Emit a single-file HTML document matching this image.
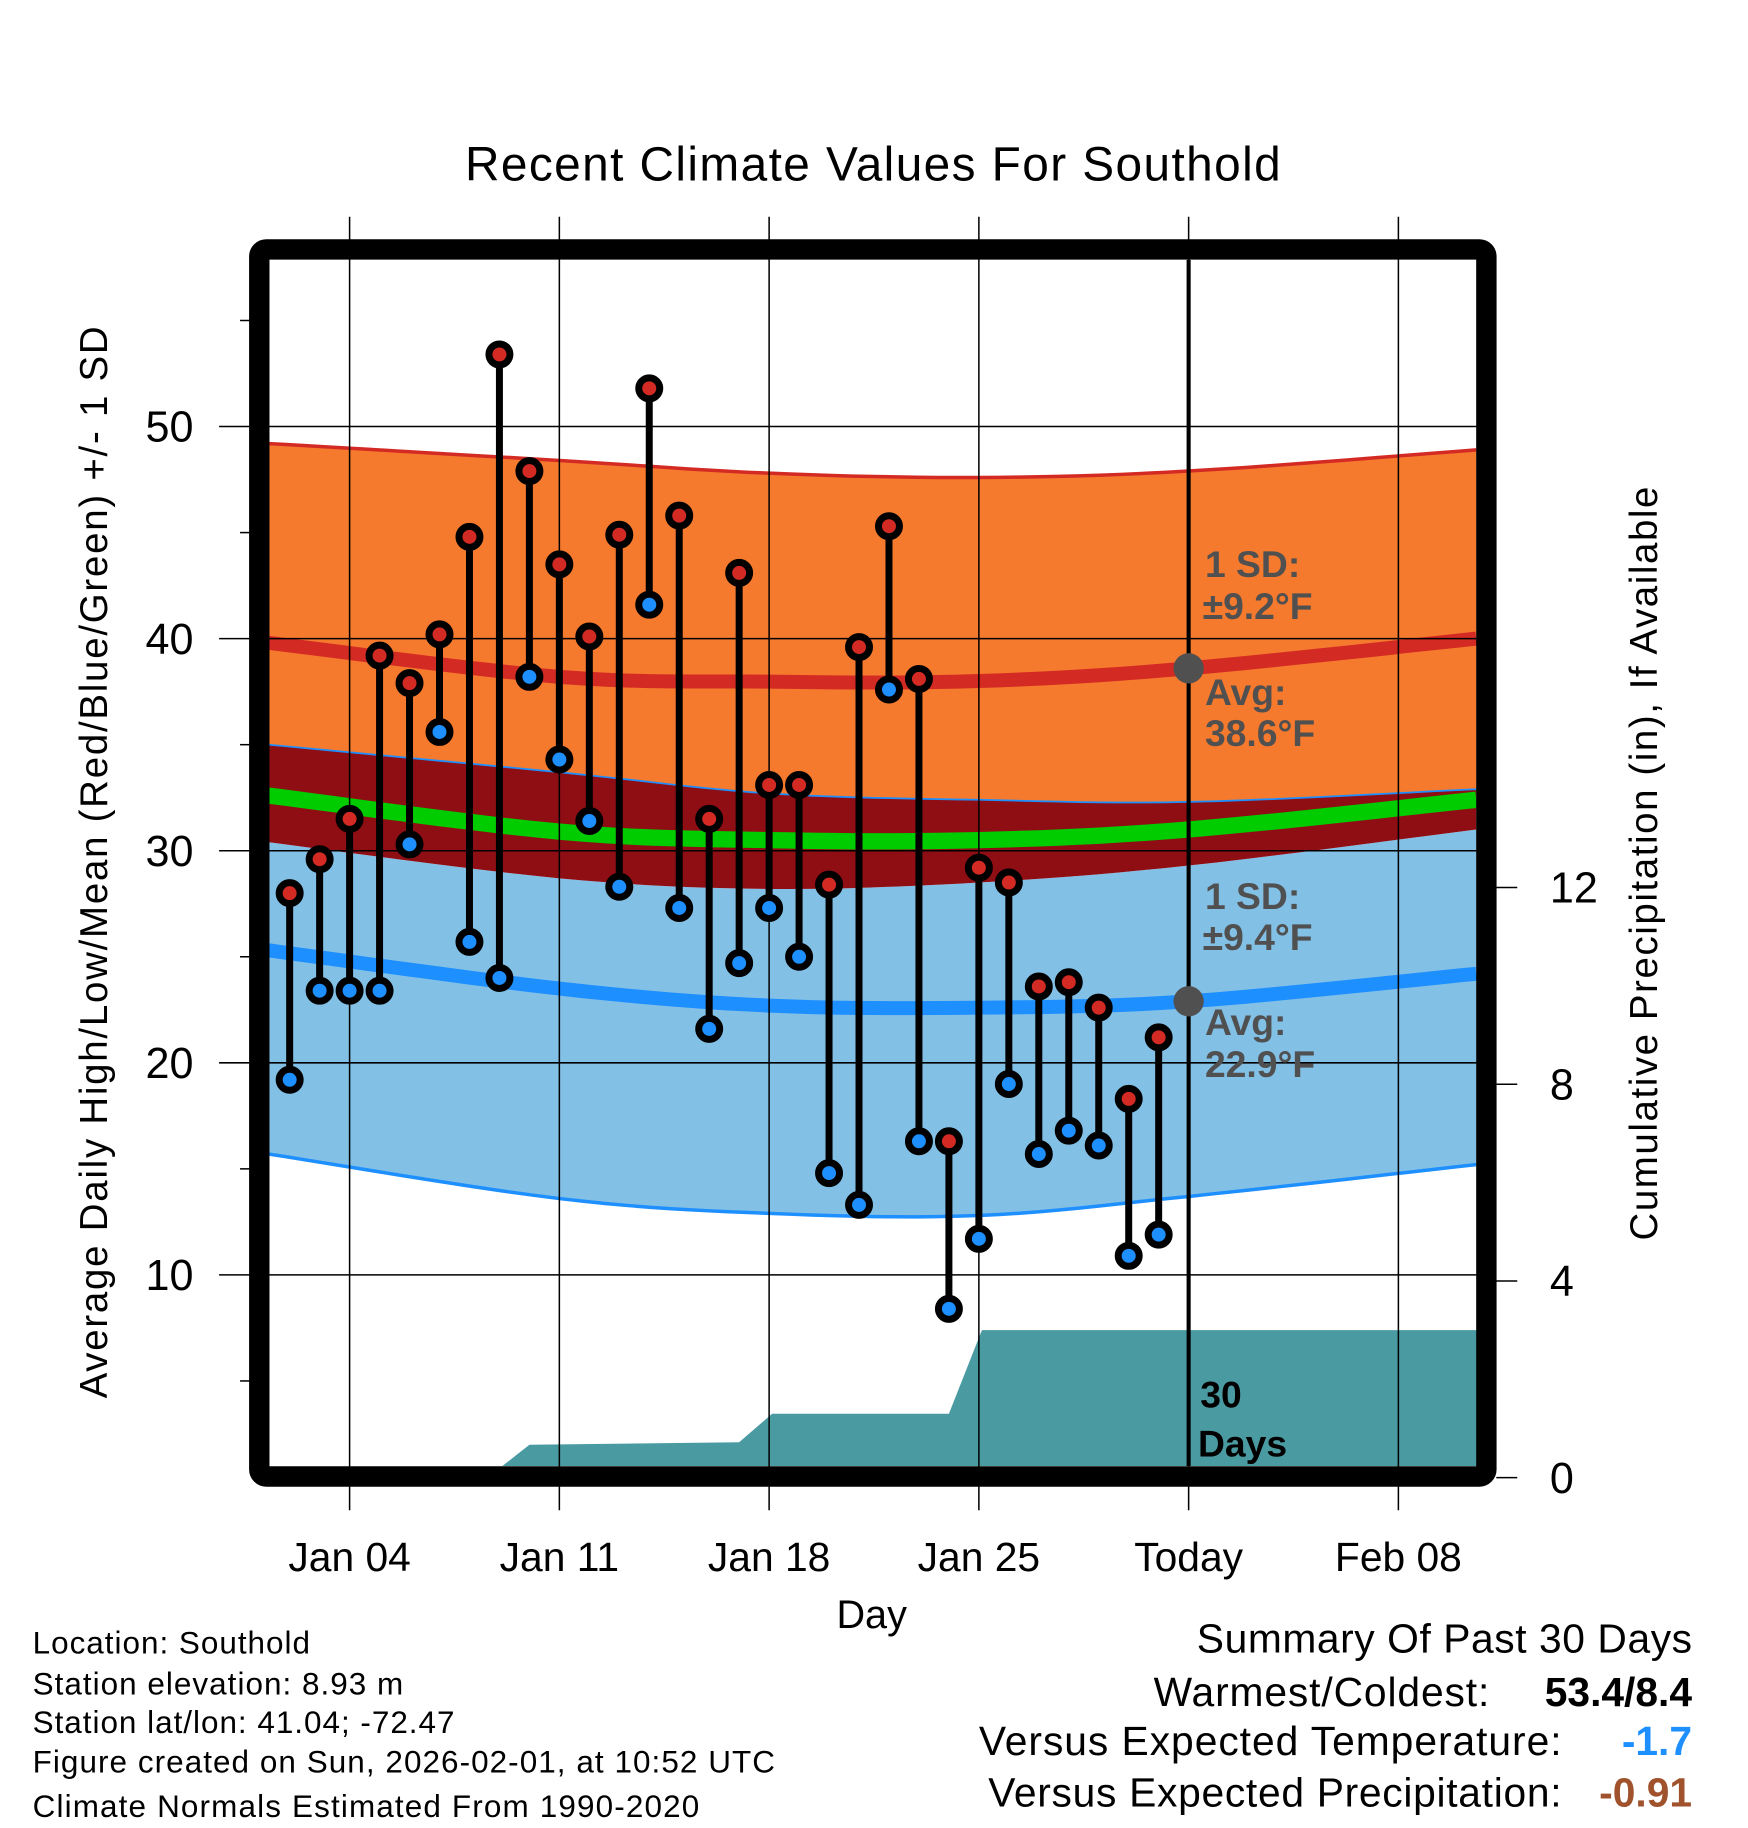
<!DOCTYPE html>
<html><head><meta charset="utf-8"><style>
html,body{margin:0;padding:0;background:#fff;}
svg{display:block;font-family:"Liberation Sans",Arial,sans-serif;}
</style></head><body>
<svg id="chart" width="1748" height="1828" viewBox="0 0 1500 1568.6" xmlns="http://www.w3.org/2000/svg">
<defs><clipPath id="plotclip"><rect x="231" y="223" width="1036" height="1035"/></clipPath></defs>
<g id="bands" clip-path="url(#plotclip)"></g>
<g id="precip" clip-path="url(#plotclip)"></g>
<g id="grid"></g>
<g id="series"></g>
<g id="annot"></g>
<rect x="222.5" y="214" width="1053" height="1053" rx="6" fill="none" stroke="#000" stroke-width="17.5"/>
<g id="axes"></g>
<text x="749" y="155" font-size="41" text-anchor="middle" textLength="700">Recent Climate Values For Southold</text>
<text transform="translate(92,740) rotate(-90)" font-size="33" text-anchor="middle" textLength="920">Average Daily High/Low/Mean (Red/Blue/Green) +/- 1 SD</text>
<text transform="translate(1422,741) rotate(-90)" font-size="33" text-anchor="middle" textLength="647">Cumulative Precipitation (in), If Available</text>
<text x="748" y="1397" font-size="34" text-anchor="middle">Day</text>
<g font-size="27">
<text x="28" y="1419" textLength="238">Location: Southold</text>
<text x="28" y="1454" textLength="318">Station elevation: 8.93 m</text>
<text x="28" y="1487" textLength="362">Station lat/lon: 41.04; -72.47</text>
<text x="28" y="1521" textLength="637">Figure created on Sun, 2026-02-01, at 10:52 UTC</text>
<text x="28" y="1559" textLength="572">Climate Normals Estimated From 1990-2020</text>
</g>
<g font-size="35" text-anchor="end">
<text x="1452" y="1418" textLength="425">Summary Of Past 30 Days</text>
<text x="1278" y="1464" textLength="288">Warmest/Coldest:</text>
<text x="1452" y="1464" font-weight="bold">53.4/8.4</text>
<text x="1340" y="1506" textLength="500">Versus Expected Temperature:</text>
<text x="1452" y="1506" font-weight="bold" fill="#1E8FFF">-1.7</text>
<text x="1340" y="1550" textLength="492">Versus Expected Precipitation:</text>
<text x="1452" y="1550" font-weight="bold" fill="#A0522D">-0.91</text>
</g>
</svg>
<script>
// ---- data ----
const obsDays = [2,3,4,5,6,7,8,9,10,11,12,13,14,15,16,17,18,19,20,21,22,23,24,25,26,27,28,29,30,31];
const highs = [28.0,29.6,31.5,39.2,37.9,40.2,44.8,53.4,47.9,43.5,40.1,44.9,51.8,45.8,31.5,43.1,33.1,33.1,28.4,39.6,45.3,38.1,16.3,29.2,28.5,23.6,23.8,22.6,18.3,21.2];
const lows = [19.2,23.4,23.4,23.4,30.3,35.6,25.7,24.0,38.2,34.3,31.4,28.3,41.6,27.3,21.6,24.7,27.3,25.0,14.8,13.3,37.6,16.3,8.4,11.7,19.0,15.7,16.8,16.1,10.9,11.9];
const normDays = [1.3,11,18,25,32,41.6];
const highPlusSD = [49.2,48.4,47.8,47.6,47.9,48.9];
const highMean = [39.8,38.2,37.97,38.0,38.6,40.0];
const highMinusSD = [35.0,33.7,32.7,32.4,32.3,32.9];
const meanTemp = [32.6,30.9,30.5,30.5,31.0,32.4];
const lowPlusSD = [30.4,28.7,28.2,28.5,29.3,31.0];
const lowMean = [25.3,23.5,22.7,22.6,22.9,24.2];
const lowMinusSD = [15.7,13.6,12.9,12.8,13.7,15.2];
const precipDays = [1,9.1,10,17,18.1,24,25.1,42];
const precipVals = [0,0,0.67,0.72,1.3,1.3,3.0,3.0];
const yTicks = [10,20,30,40,50];
const yMinor = [5,15,25,35,45,55];
const rTicks = [0,4,8,12];
const xTickDays = [4,11,18,25,32,39];
const xTickLabels = ["Jan 04","Jan 11","Jan 18","Jan 25","Today","Feb 08"];

// ---- scales ----
const X = d => 300 + (d-4)*25.714;
const Y = v => 548 - (v-40)*18.2;
const R = p => 1268 - p*42.2;
const NS = "http://www.w3.org/2000/svg";
function mk(tag, attrs, parent){ const e=document.createElementNS(NS,tag); for(const k in attrs) e.setAttribute(k,attrs[k]); parent.appendChild(e); return e; }
function curvePts(arr){
  const pts=[]; const n=normDays.length;
  for(let i=0;i<n-1;i++){
    const p0=[normDays[Math.max(i-1,0)],arr[Math.max(i-1,0)]], p1=[normDays[i],arr[i]], p2=[normDays[i+1],arr[i+1]], p3=[normDays[Math.min(i+2,n-1)],arr[Math.min(i+2,n-1)]];
    for(let t=0;t<1;t+=0.1){
      const t2=t*t,t3=t2*t;
      const f=(a,b,c,d)=>0.5*((2*b)+(-a+c)*t+(2*a-5*b+4*c-d)*t2+(-a+3*b-3*c+d)*t3);
      pts.push([X(f(p0[0],p1[0],p2[0],p3[0])), Y(f(p0[1],p1[1],p2[1],p3[1]))]);
    }
  }
  pts.push([X(normDays[n-1]),Y(arr[n-1])]);
  return pts;
}
const toStr = p => p.map(q=>q[0].toFixed(1)+","+q[1].toFixed(1)).join(" ");
function band(top,bot,fill,name){
  const a=curvePts(top), b=curvePts(bot).reverse();
  const e=mk("polygon",{points:toStr(a.concat(b)),fill:fill},bands);
  
  
}
function line(arr,color,w,name){
  const e=mk("polyline",{points:toStr(curvePts(arr)),fill:"none",stroke:color,"stroke-width":w},bands);
  
  
}
const bands=document.getElementById("bands");
band(highPlusSD,highMinusSD,"#F57A2E","high-sd-band");
band(lowPlusSD,lowMinusSD,"#83C0E6","low-sd-band");
band(highMinusSD,lowPlusSD,"#8F0E14","overlap-band");
line(highPlusSD,"#D42A24",3,"high-plus-sd-line");
line(highMinusSD,"#1E8FFF",1.5,"high-minus-sd-line");
line(lowMinusSD,"#1E8FFF",3,"low-minus-sd-line");
line(highMean,"#D42A24",12,"high-mean-line");
line(lowMean,"#1E8FFF",12,"low-mean-line");
line(meanTemp,"#00CC00",14,"mean-temp-line");

// precip
const precip=document.getElementById("precip");
let pp=precipDays.map((d,i)=>[X(d),Math.min(R(precipVals[i]),1258)]);
pp.push([X(42),1270]); pp.push([X(1),1270]);
const pe=mk("polygon",{points:toStr(pp),fill:"#4A9AA2"},precip);



// grid
const grid=document.getElementById("grid");
yTicks.forEach(v=>{
  const g=mk("line",{x1:188,x2:1267,y1:Y(v),y2:Y(v),stroke:"#000","stroke-width":1.3},grid);
  
  
});
yMinor.forEach(v=>{
  const g=mk("line",{x1:206,x2:215,y1:Y(v),y2:Y(v),stroke:"#000","stroke-width":1.3},grid);
  
  
});
xTickDays.forEach((d,i)=>{
  const g=mk("line",{x1:X(d),x2:X(d),y1:186,y2:1296,stroke:"#000","stroke-width":1.3},grid);
  
  
});
const today=mk("line",{x1:X(32),x2:X(32),y1:223,y2:1258,stroke:"#000","stroke-width":3.5},grid);



// series
const series=document.getElementById("series");
obsDays.forEach((d,i)=>{
  const s=mk("line",{x1:X(d),x2:X(d),y1:Y(highs[i]),y2:Y(lows[i]),stroke:"#000","stroke-width":6},series);
  
  
});
obsDays.forEach((d,i)=>{
  const h=mk("circle",{cx:X(d),cy:Y(highs[i]),r:9,fill:"#D42A24",stroke:"#000","stroke-width":6},series);
  
  
  const l=mk("circle",{cx:X(d),cy:Y(lows[i]),r:9,fill:"#1E8FFF",stroke:"#000","stroke-width":6},series);
  
  
});

// annotations
const annot=document.getElementById("annot");
function txt(x,y,s,attrs,name,parent){ const t=mk("text",Object.assign({x:x,y:y},attrs),parent||annot); t.textContent=s;
  
   return t; }
const ga={"font-size":32,"font-weight":"bold",fill:"#505050"};
const d1=mk("circle",{cx:X(32),cy:Y(38.6),r:13,fill:"#505050"},annot);


const d2=mk("circle",{cx:X(32),cy:Y(22.9),r:13,fill:"#505050"},annot);


txt(1034,495,"1 SD:",ga,"high-sd-label");
txt(1032,531,"±9.2°F",ga,"high-sd-value");
txt(1034,605,"Avg:",ga,"high-avg-label");
txt(1034,640,"38.6°F",ga,"high-avg-value");
txt(1034,780,"1 SD:",ga,"low-sd-label");
txt(1032,815,"±9.4°F",ga,"low-sd-value");
txt(1034,888,"Avg:",ga,"low-avg-label");
txt(1034,924,"22.9°F",ga,"low-avg-value");
const ba={"font-size":32,"font-weight":"bold",fill:"#000"};
txt(1030,1208,"30",ba,"days-count");
txt(1028,1250,"Days",ba,"days-label");

// axes labels
const axes=document.getElementById("axes");
yTicks.forEach(v=>txt(166,Y(v)+13,String(v),{"font-size":37,"text-anchor":"end"},"y-tick-"+v,axes));
rTicks.forEach(p=>{
  const t=mk("line",{x1:1284,x2:1302,y1:R(p),y2:R(p),stroke:"#000","stroke-width":1.3},axes);
  
  
  txt(1330,R(p)+13,String(p),{"font-size":37},"right-tick-label-"+p,axes);
});
xTickDays.forEach((d,i)=>txt(X(d),1348,xTickLabels[i],{"font-size":35,"text-anchor":"middle"},"x-tick-label-"+i,axes));
</script>
</body></html>
